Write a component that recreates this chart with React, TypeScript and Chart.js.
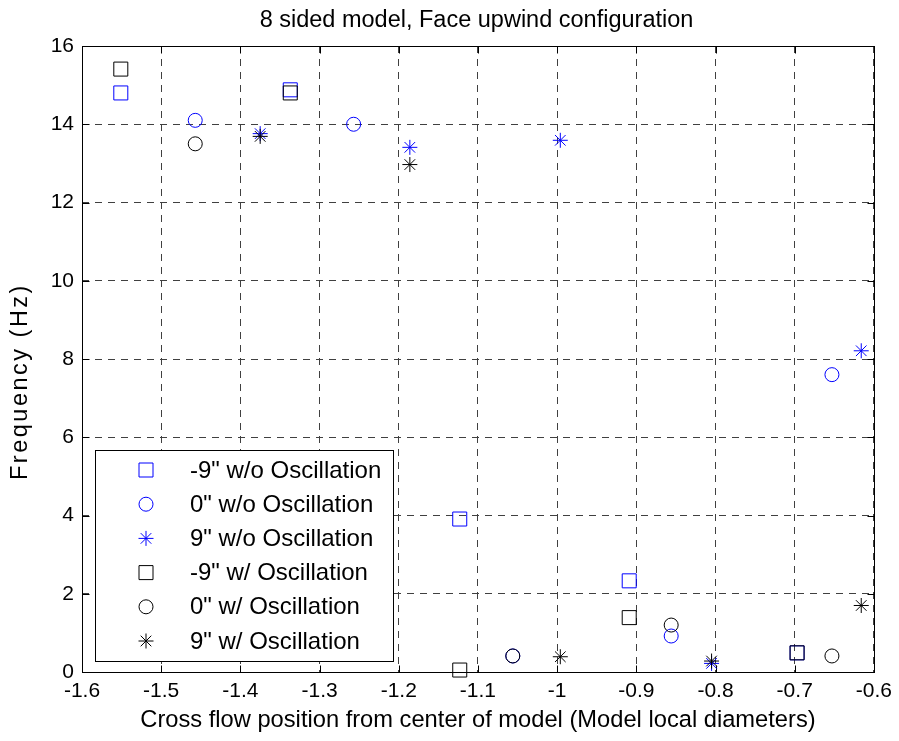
import React, { useEffect, useRef } from 'react';
import { Chart, registerables } from 'chart.js';

Chart.register(...registerables);

const FONT = '"Liberation Sans", Arial, Helvetica, sans-serif';

const chartTitle = '8 sided model, Face upwind configuration';
const xAxisTitle = 'Cross flow position from center of model (Model local diameters)';
const yAxisTitle = 'Frequency (Hz)';

const xTicks = [-1.6, -1.5, -1.4, -1.3, -1.2, -1.1, -1, -0.9, -0.8, -0.7, -0.6];
const yTicks = [0, 2, 4, 6, 8, 10, 12, 14, 16];

// x positions of each probe location (model local diameters)
const xSquares = [-1.551, -1.337, -1.123, -0.909, -0.697];
const xCircles = [-1.457, -1.257, -1.056, -0.856, -0.653];
const xStars = [-1.375, -1.186, -0.996, -0.805, -0.616];

// frequencies (Hz)
const negNineWithout = [14.8, 14.88, 3.91, 2.33, 0.49];
const zeroWithout = [14.1, 14.0, 0.41, 0.92, 7.6];
const nineWithout = [13.76, 13.41, 13.59, 0.22, 8.21];
const negNineWith = [15.41, 14.8, 0.05, 1.39, 0.49];
const zeroWith = [13.5, null, 0.41, 1.2, 0.41];
const nineWith = [13.69, 12.97, 0.39, 0.28, 1.7];

const seriesLabels = [
  '-9" w/o Oscillation',
  '0" w/o Oscillation',
  '9" w/o Oscillation',
  '-9" w/ Oscillation',
  '0" w/ Oscillation',
  '9" w/ Oscillation',
];
const seriesColors = ['#0000ff', '#0000ff', '#0000ff', '#000000', '#000000', '#000000'];
const seriesShapes = ['rect', 'circle', 'star', 'rect', 'circle', 'star'];
const seriesX = [xSquares, xCircles, xStars, xSquares, xCircles, xStars];
const seriesY = [negNineWithout, zeroWithout, nineWithout, negNineWith, zeroWith, nineWith];

const radiusFor: Record<string, number> = { rect: 9.9, circle: 7, star: 7.5 };

function fmt(v: number) {
  return String(parseFloat(Number(v).toFixed(1)));
}

function drawMarker(ctx: CanvasRenderingContext2D, shape: string, x: number, y: number, color: string) {
  ctx.save();
  ctx.strokeStyle = color;
  ctx.lineWidth = 1;
  ctx.beginPath();
  if (shape === 'rect') {
    const h = 7;
    ctx.rect(x - h, y - h, 2 * h, 2 * h);
  } else if (shape === 'circle') {
    ctx.arc(x, y, 7, 0, Math.PI * 2);
  } else {
    const r = 7.5;
    const d = r * Math.SQRT1_2;
    ctx.moveTo(x - r, y); ctx.lineTo(x + r, y);
    ctx.moveTo(x, y - r); ctx.lineTo(x, y + r);
    ctx.moveTo(x - d, y - d); ctx.lineTo(x + d, y + d);
    ctx.moveTo(x - d, y + d); ctx.lineTo(x + d, y - d);
  }
  ctx.stroke();
  ctx.restore();
}

const framePlugin = {
  id: 'matlabFrame',
  beforeDatasetsDraw(chart: any) {
    const { ctx, chartArea: a, scales } = chart;
    ctx.save();
    ctx.strokeStyle = '#000';
    ctx.lineWidth = 1;
    ctx.setLineDash([]);
    const L = Math.round(a.left) + 0.5;
    const R = Math.round(a.right) + 0.5;
    const T = Math.round(a.top) + 0.5;
    const B = Math.round(a.bottom) + 0.5;
    ctx.strokeRect(L, T, R - L, B - T);
    const tl = 7;
    ctx.beginPath();
    scales.x.ticks.forEach((t: any) => {
      const px = Math.round(scales.x.getPixelForValue(t.value)) + 0.5;
      ctx.moveTo(px, B); ctx.lineTo(px, B - tl);
      ctx.moveTo(px, T); ctx.lineTo(px, T + tl);
    });
    scales.y.ticks.forEach((t: any) => {
      const py = Math.round(scales.y.getPixelForValue(t.value)) + 0.5;
      ctx.moveTo(L, py); ctx.lineTo(L + tl, py);
      ctx.moveTo(R, py); ctx.lineTo(R - tl, py);
    });
    ctx.stroke();
    ctx.restore();
  },
  afterDatasetsDraw(chart: any) {
    const { ctx } = chart;
    ctx.save();
    // legend box
    ctx.fillStyle = '#ffffff';
    ctx.fillRect(95, 450, 298, 212);
    ctx.strokeStyle = '#000';
    ctx.lineWidth = 1;
    ctx.strokeRect(95.5, 450.5, 298, 211);
    ctx.font = `24px ${FONT}`;
    ctx.textBaseline = 'middle';
    ctx.textAlign = 'left';
    ctx.fillStyle = '#000';
    seriesLabels.forEach((lbl, i) => {
      const cy = 470 + i * 34.2;
      drawMarker(ctx, seriesShapes[i], 146, cy, seriesColors[i]);
      ctx.fillText(lbl, 190, cy + 1);
    });
    ctx.restore();
  },
  afterDraw(chart: any) {
    const { ctx } = chart;
    ctx.save();
    ctx.fillStyle = '#000';
    ctx.font = `23.5px ${FONT}`;
    ctx.textAlign = 'center';
    ctx.textBaseline = 'alphabetic';
    ctx.fillText(chartTitle, 476.5, 27);
    // y axis title
    ctx.translate(21, 480);
    ctx.rotate(-Math.PI / 2);
    ctx.textAlign = 'left';
    ctx.textBaseline = 'middle';
    try { (ctx as any).letterSpacing = '2.5px'; } catch (e) {}
    ctx.fillText(yAxisTitle, 0, 0);
    ctx.restore();
  },
};

export default function App() {
  const ref = useRef<HTMLCanvasElement | null>(null);

  useEffect(() => {
    if (!ref.current) return;
    const datasets = seriesLabels.map((label, i) => ({
      label,
      data: seriesX[i]
        .map((x, j) => ({ x, y: seriesY[i][j] }))
        .filter((p) => p.y !== null && p.y !== undefined),
      showLine: false,
      pointStyle: seriesShapes[i],
      pointRadius: radiusFor[seriesShapes[i]],
      pointBorderWidth: 1,
      pointBorderColor: seriesColors[i],
      pointBackgroundColor: 'rgba(0,0,0,0)',
      borderColor: seriesColors[i],
      backgroundColor: 'rgba(0,0,0,0)',
      clip: false as any,
      order: i < 3 ? 1 : 0,
    }));

    const gridCommon = { color: '#404040', lineWidth: 1, drawTicks: false };
    const chart = new Chart(ref.current, {
      type: 'scatter',
      data: { datasets: datasets as any },
      options: {
        responsive: false,
        animation: false,
        events: [],
        layout: { padding: { top: 46, right: 23, left: 0, bottom: 0 } },
        plugins: {
          legend: { display: false },
          tooltip: { enabled: false },
          title: { display: false },
        },
        scales: {
          x: {
            type: 'linear',
            min: -1.6,
            max: -0.6,
            afterBuildTicks: (s: any) => {
              s.ticks = xTicks.map((v) => ({ value: v }));
            },
            afterFit: (s: any) => {
              s.height = 69;
            },
            ticks: {
              callback: (v: any) => fmt(v),
              font: { family: FONT, size: 21 },
              color: '#000',
              padding: 7,
              maxRotation: 0,
              autoSkip: false,
            },
            grid: gridCommon,
            border: { display: false, dash: [7, 6] },
            title: {
              display: true,
              text: xAxisTitle,
              font: { family: FONT, size: 23.7 },
              color: '#000',
              padding: { top: 0, bottom: 6 },
            },
          },
          y: {
            type: 'linear',
            min: 0,
            max: 16,
            afterBuildTicks: (s: any) => {
              s.ticks = yTicks.map((v) => ({ value: v }));
            },
            afterFit: (s: any) => {
              s.width = 82;
            },
            ticks: {
              callback: (v: any) => fmt(v),
              font: { family: FONT, size: 21 },
              color: '#000',
              padding: 8,
              autoSkip: false,
            },
            grid: gridCommon,
            border: { display: false, dash: [7, 6] },
            title: { display: false },
          },
        },
      },
      plugins: [framePlugin],
    });
    return () => chart.destroy();
  }, []);

  return (
    <div style={{ position: 'absolute', left: 0, top: 0, width: 899, height: 741, background: '#fff' }}>
      <canvas ref={ref} width={899} height={741} style={{ display: 'block' }} />
    </div>
  );
}
